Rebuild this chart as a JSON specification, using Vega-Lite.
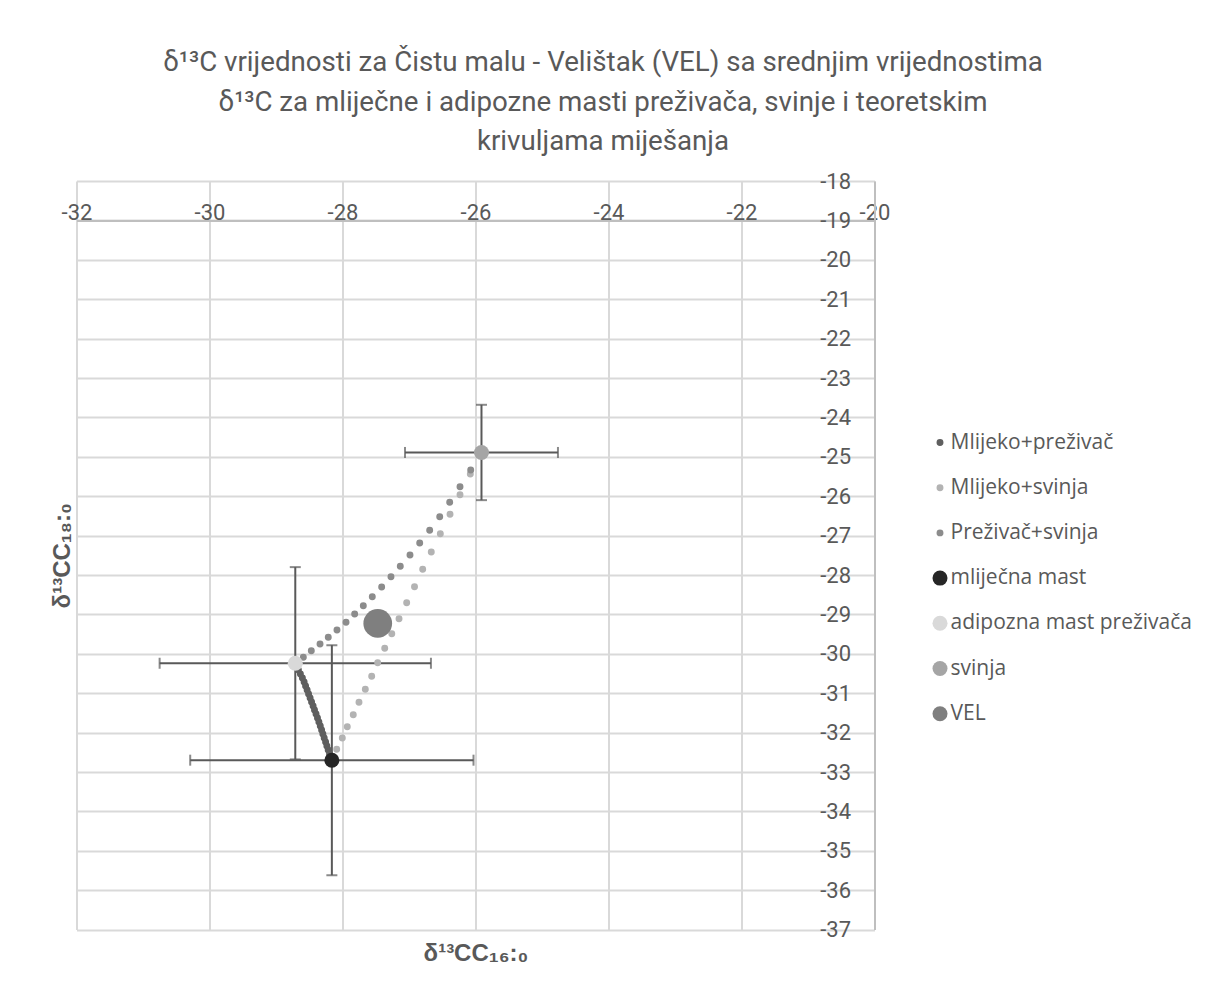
{
  "$schema": "https://vega.github.io/schema/vega-lite/v6.json",
  "autosize": {"type": "none"},
  "padding": {"left": 76.5, "top": 181, "right": 331.5, "bottom": 64.4},
  "width": 798,
  "height": 748.6,
  "background": "white",
  "config": {"view": {"stroke": null}},
  "title": {
    "text": ["δ¹³C vrijednosti za Čistu malu - Velištak (VEL) sa srednjim vrijednostima", "δ¹³C  za mliječne i adipozne masti preživača, svinje i teoretskim", "krivuljama miješanja"],
    "font": "Roboto",
    "fontSize": 27.7,
    "fontWeight": "normal",
    "color": "#595959",
    "lineHeight": 39.5,
    "anchor": "middle",
    "frame": "group",
    "dx": 127.5,
    "offset": 14
  },
  "datasets": {
    "mix": [
      {"s": "Mlijeko+preživač", "x": -28.71, "y": -30.24},
      {"s": "Mlijeko+preživač", "x": -28.692, "y": -30.31},
      {"s": "Mlijeko+preživač", "x": -28.663, "y": -30.411},
      {"s": "Mlijeko+preživač", "x": -28.633, "y": -30.513},
      {"s": "Mlijeko+preživač", "x": -28.603, "y": -30.614},
      {"s": "Mlijeko+preživač", "x": -28.577, "y": -30.716},
      {"s": "Mlijeko+preživač", "x": -28.555, "y": -30.817},
      {"s": "Mlijeko+preživač", "x": -28.532, "y": -30.919},
      {"s": "Mlijeko+preživač", "x": -28.51, "y": -31.02},
      {"s": "Mlijeko+preživač", "x": -28.487, "y": -31.122},
      {"s": "Mlijeko+preživač", "x": -28.465, "y": -31.223},
      {"s": "Mlijeko+preživač", "x": -28.442, "y": -31.325},
      {"s": "Mlijeko+preživač", "x": -28.421, "y": -31.426},
      {"s": "Mlijeko+preživač", "x": -28.398, "y": -31.528},
      {"s": "Mlijeko+preživač", "x": -28.376, "y": -31.629},
      {"s": "Mlijeko+preživač", "x": -28.355, "y": -31.731},
      {"s": "Mlijeko+preživač", "x": -28.334, "y": -31.832},
      {"s": "Mlijeko+preživač", "x": -28.314, "y": -31.934},
      {"s": "Mlijeko+preživač", "x": -28.295, "y": -32.036},
      {"s": "Mlijeko+preživač", "x": -28.275, "y": -32.137},
      {"s": "Mlijeko+preživač", "x": -28.254, "y": -32.239},
      {"s": "Mlijeko+preživač", "x": -28.235, "y": -32.34},
      {"s": "Mlijeko+preživač", "x": -28.215, "y": -32.442},
      {"s": "Mlijeko+preživač", "x": -28.195, "y": -32.543},
      {"s": "Mlijeko+preživač", "x": -28.179, "y": -32.619},
      {"s": "Mlijeko+preživač", "x": -28.16, "y": -32.7},
      {"s": "Mlijeko+svinja", "x": -28.16, "y": -32.7},
      {"s": "Mlijeko+svinja", "x": -28.087, "y": -32.424},
      {"s": "Mlijeko+svinja", "x": -28.003, "y": -32.137},
      {"s": "Mlijeko+svinja", "x": -27.928, "y": -31.85},
      {"s": "Mlijeko+svinja", "x": -27.838, "y": -31.546},
      {"s": "Mlijeko+svinja", "x": -27.752, "y": -31.231},
      {"s": "Mlijeko+svinja", "x": -27.657, "y": -30.901},
      {"s": "Mlijeko+svinja", "x": -27.561, "y": -30.571},
      {"s": "Mlijeko+svinja", "x": -27.471, "y": -30.226},
      {"s": "Mlijeko+svinja", "x": -27.365, "y": -29.858},
      {"s": "Mlijeko+svinja", "x": -27.259, "y": -29.492},
      {"s": "Mlijeko+svinja", "x": -27.15, "y": -29.109},
      {"s": "Mlijeko+svinja", "x": -27.035, "y": -28.706},
      {"s": "Mlijeko+svinja", "x": -26.917, "y": -28.297},
      {"s": "Mlijeko+svinja", "x": -26.794, "y": -27.855},
      {"s": "Mlijeko+svinja", "x": -26.665, "y": -27.416},
      {"s": "Mlijeko+svinja", "x": -26.529, "y": -26.952},
      {"s": "Mlijeko+svinja", "x": -26.383, "y": -26.459},
      {"s": "Mlijeko+svinja", "x": -26.233, "y": -25.962},
      {"s": "Mlijeko+svinja", "x": -26.078, "y": -25.437},
      {"s": "Mlijeko+svinja", "x": -25.91, "y": -24.89},
      {"s": "Preživač+svinja", "x": -28.71, "y": -30.24},
      {"s": "Preživač+svinja", "x": -28.589, "y": -30.089},
      {"s": "Preživač+svinja", "x": -28.469, "y": -29.921},
      {"s": "Preživač+svinja", "x": -28.338, "y": -29.751},
      {"s": "Preživač+svinja", "x": -28.214, "y": -29.581},
      {"s": "Preživač+svinja", "x": -28.083, "y": -29.396},
      {"s": "Preživač+svinja", "x": -27.947, "y": -29.201},
      {"s": "Preživač+svinja", "x": -27.817, "y": -28.99},
      {"s": "Preživač+svinja", "x": -27.687, "y": -28.779},
      {"s": "Preživač+svinja", "x": -27.552, "y": -28.551},
      {"s": "Preživač+svinja", "x": -27.411, "y": -28.305},
      {"s": "Preživač+svinja", "x": -27.271, "y": -28.043},
      {"s": "Preživač+svinja", "x": -27.131, "y": -27.779},
      {"s": "Preživač+svinja", "x": -26.985, "y": -27.492},
      {"s": "Preživač+svinja", "x": -26.839, "y": -27.188},
      {"s": "Preživač+svinja", "x": -26.689, "y": -26.865},
      {"s": "Preživač+svinja", "x": -26.538, "y": -26.52},
      {"s": "Preživač+svinja", "x": -26.388, "y": -26.155},
      {"s": "Preživač+svinja", "x": -26.233, "y": -25.759},
      {"s": "Preživač+svinja", "x": -26.072, "y": -25.335},
      {"s": "Preživač+svinja", "x": -25.91, "y": -24.89}
    ],
    "pts": [
      {"s": "mliječna mast", "x": -28.16, "y": -32.7, "xlo": -30.29, "xhi": -26.03, "ylo": -35.62, "yhi": -29.78},
      {"s": "adipozna mast preživača", "x": -28.71, "y": -30.24, "xlo": -30.75, "xhi": -26.67, "ylo": -32.68, "yhi": -27.8},
      {"s": "svinja", "x": -25.91, "y": -24.89, "xlo": -27.06, "xhi": -24.76, "ylo": -26.1, "yhi": -23.68}
    ],
    "vel": [
      {"s": "VEL", "x": -27.47, "y": -29.23}
    ]
  },
  "resolve": {"axis": {"x": "independent", "y": "independent"}},
  "layer": [
    {
      "data": {"name": "pts"},
      "mark": {"type": "errorbar", "color": "#595959", "thickness": 2, "ticks": {"size": 11, "thickness": 2, "color": "#595959"}},
      "encoding": {
        "x": {"field": "xlo", "type": "quantitative", "scale": {"domain": [-32, -20], "nice": false, "zero": false}, "axis": null},
        "x2": {"field": "xhi"},
        "y": {"field": "y", "type": "quantitative", "scale": {"domain": [-37, -18], "nice": false, "zero": false}, "axis": null}
      }
    },
    {
      "data": {"name": "pts"},
      "mark": {"type": "errorbar", "color": "#595959", "thickness": 2, "ticks": {"size": 11, "thickness": 2, "color": "#595959"}},
      "encoding": {
        "x": {"field": "x", "type": "quantitative", "scale": {"domain": [-32, -20], "nice": false, "zero": false}, "axis": null},
        "y": {"field": "ylo", "type": "quantitative", "scale": {"domain": [-37, -18], "nice": false, "zero": false}, "axis": null},
        "y2": {"field": "yhi"}
      }
    },
    {
      "data": {"name": "mix"},
      "mark": {"type": "point", "shape": "circle", "filled": true, "opacity": 1, "strokeWidth": 0},
      "encoding": {
        "x": {
          "field": "x", "type": "quantitative",
          "scale": {"domain": [-32, -20], "nice": false, "zero": false},
          "axis": {
            "orient": "top", "offset": -39.4, "values": [-32, -30, -28, -26, -24, -22, -20],
            "grid": true, "gridColor": "#d9d9d9", "gridWidth": 2,
            "domainColor": "#bfbfbf", "domainWidth": 2,
            "ticks": false, "tickSize": 0, "labelPadding": 1, "labelBaseline": "alphabetic",
            "labelExpr": "replace(datum.label, '−', '-')",
            "labelFont": "Roboto", "labelFontSize": 22, "labelColor": "#595959",
            "labelOverlap": false, "labelFlush": false, "title": null
          }
        },
        "y": {
          "field": "y", "type": "quantitative",
          "scale": {"domain": [-37, -18], "nice": false, "zero": false},
          "axis": {
            "orient": "right", "values": [-18, -19, -20, -21, -22, -23, -24, -25, -26, -27, -28, -29, -30, -31, -32, -33, -34, -35, -36, -37],
            "grid": true, "gridColor": "#d9d9d9", "gridWidth": 2,
            "domainColor": "#bfbfbf", "domainWidth": 2,
            "ticks": false, "tickSize": 0, "labelAlign": "right", "labelPadding": -24,
            "labelExpr": "replace(datum.label, '−', '-')",
            "labelFont": "Roboto", "labelFontSize": 22, "labelColor": "#595959",
            "labelOverlap": false, "labelFlush": false, "title": null
          }
        },
        "color": {
          "field": "s", "type": "nominal",
          "scale": {
            "domain": ["Mlijeko+preživač", "Mlijeko+svinja", "Preživač+svinja", "mliječna mast", "adipozna mast preživača", "svinja", "VEL"],
            "range": ["#5f5f5f", "#b3b3b3", "#8c8c8c", "#262626", "#d9d9d9", "#a5a5a5", "#7f7f7f"]
          },
          "legend": {
            "orient": "none", "legendX": 853, "legendY": 251, "title": null,
            "labelFont": "Open Sans", "labelFontSize": 21, "labelColor": "#595959", "labelLimit": 400,
            "rowPadding": 23.2, "labelOffset": 0, "symbolType": "circle", "padding": 0,
            "symbolStrokeWidth": 0, "symbolOpacity": 1
          }
        },
        "size": {
          "field": "s", "type": "nominal",
          "scale": {
            "type": "ordinal",
            "domain": ["Mlijeko+preživač", "Mlijeko+svinja", "Preživač+svinja", "mliječna mast", "adipozna mast preživača", "svinja", "VEL"],
            "range": [48, 48, 48, 225, 225, 225, 225]
          },
          "legend": {
            "orient": "none", "legendX": 853, "legendY": 251, "title": null,
            "labelFont": "Open Sans", "labelFontSize": 21, "labelColor": "#595959", "labelLimit": 400,
            "rowPadding": 23.2, "labelOffset": 0, "symbolType": "circle", "padding": 0,
            "symbolStrokeWidth": 0, "symbolOpacity": 1
          }
        }
      }
    },
    {
      "data": {"name": "pts"},
      "mark": {"type": "point", "shape": "circle", "filled": true, "opacity": 1, "strokeWidth": 0},
      "encoding": {
        "x": {
          "field": "x", "type": "quantitative",
          "scale": {"domain": [-32, -20], "nice": false, "zero": false},
          "axis": {
            "orient": "bottom", "labels": false, "ticks": false, "domain": false, "grid": false,
            "title": "δ¹³CC₁₆:₀", "titleFont": "Liberation Sans", "titleFontSize": 24,
            "titleFontWeight": "bold", "titleColor": "#595959", "titlePadding": 12
          }
        },
        "y": {
          "field": "y", "type": "quantitative",
          "scale": {"domain": [-37, -18], "nice": false, "zero": false},
          "axis": {
            "orient": "left", "labels": false, "ticks": false, "domain": false, "grid": false,
            "title": "δ¹³CC₁₈:₀", "titleFont": "Liberation Sans", "titleFontSize": 24,
            "titleFontWeight": "bold", "titleColor": "#595959", "titlePadding": 2
          }
        },
        "color": {
          "field": "s", "type": "nominal",
          "scale": {
            "domain": ["Mlijeko+preživač", "Mlijeko+svinja", "Preživač+svinja", "mliječna mast", "adipozna mast preživača", "svinja", "VEL"],
            "range": ["#5f5f5f", "#b3b3b3", "#8c8c8c", "#262626", "#d9d9d9", "#a5a5a5", "#7f7f7f"]
          },
          "legend": {
            "orient": "none", "legendX": 853, "legendY": 251, "title": null,
            "labelFont": "Open Sans", "labelFontSize": 21, "labelColor": "#595959", "labelLimit": 400,
            "rowPadding": 23.2, "labelOffset": 0, "symbolType": "circle", "padding": 0,
            "symbolStrokeWidth": 0, "symbolOpacity": 1
          }
        },
        "size": {
          "field": "s", "type": "nominal",
          "scale": {
            "type": "ordinal",
            "domain": ["Mlijeko+preživač", "Mlijeko+svinja", "Preživač+svinja", "mliječna mast", "adipozna mast preživača", "svinja", "VEL"],
            "range": [48, 48, 48, 225, 225, 225, 225]
          },
          "legend": {
            "orient": "none", "legendX": 853, "legendY": 251, "title": null,
            "labelFont": "Open Sans", "labelFontSize": 21, "labelColor": "#595959", "labelLimit": 400,
            "rowPadding": 23.2, "labelOffset": 0, "symbolType": "circle", "padding": 0,
            "symbolStrokeWidth": 0, "symbolOpacity": 1
          }
        }
      }
    },
    {
      "data": {"name": "vel"},
      "mark": {"type": "point", "shape": "circle", "filled": true, "opacity": 1, "strokeWidth": 0, "size": 823, "color": "#7f7f7f"},
      "encoding": {
        "x": {"field": "x", "type": "quantitative", "scale": {"domain": [-32, -20], "nice": false, "zero": false}, "axis": null},
        "y": {"field": "y", "type": "quantitative", "scale": {"domain": [-37, -18], "nice": false, "zero": false}, "axis": null}
      }
    }
  ]
}
